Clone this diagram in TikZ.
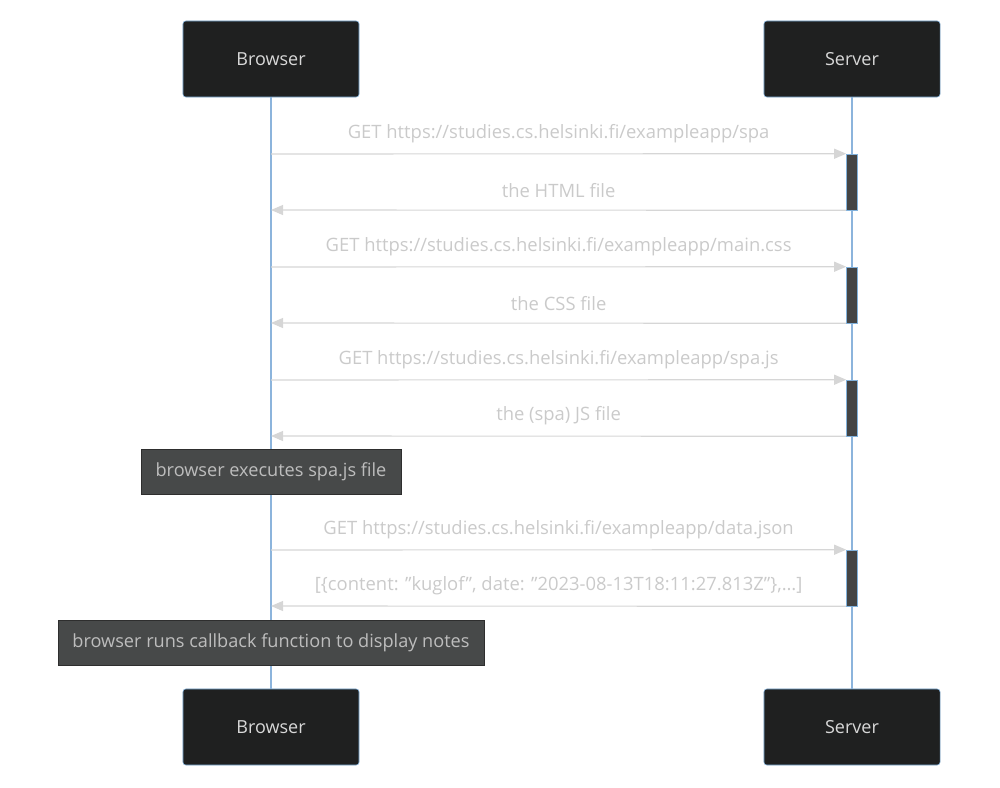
\documentclass[tikz,border=0pt]{standalone}
\usepackage{fontspec}
\setmainfont{Open Sans}
\usetikzlibrary{arrows.meta,positioning}
\definecolor{actorfill}{HTML}{1F2020}
\definecolor{actorline}{HTML}{81B1DB}
\definecolor{lifeline}{HTML}{8CB4DC}
\definecolor{msgline}{HTML}{D6D6D6}
\definecolor{msgtext}{HTML}{CACACA}
\definecolor{actortext}{HTML}{D8D8D8}
\definecolor{notefill}{HTML}{474949}
\definecolor{noteline}{HTML}{2E2E2E}
\definecolor{notetext}{HTML}{BDBDBD}
\definecolor{actfill}{HTML}{444444}
\newcommand{\dq}{\symbol{34}}
\tikzstyle{actor} = [
    rectangle,
    rounded corners=2pt,
    draw=actorline,
    fill=actorfill,
    minimum width=4.4cm,
    minimum height=1.9cm,
    text=actortext,
    font=\fontsize{12.8}{14}\selectfont
]
\tikzstyle{activation} = [
    rectangle,
    draw=actorline,
    fill=actfill,
    minimum width=0.275cm,
    minimum height=1.4cm,
    inner sep=0pt
]
\tikzstyle{note} = [
    rectangle,
    draw=noteline,
    fill=notefill,
    minimum height=1.125cm,
    text=notetext,
    font=\fontsize{12.9}{14}\selectfont
]
\tikzstyle{msg} = [
    -{Triangle[length=0.3cm,width=0.25cm]},
    draw=msgline,
    line width=0.8pt
]
\tikzstyle{msglabel} = [
    text=msgtext,
    font=\fontsize{13.1}{15}\selectfont,
    inner sep=0pt
]
\tikzstyle{life} = [
    draw=lifeline,
    line width=1pt
]

\begin{document}
\begin{tikzpicture}[x=0.025cm, y=-0.025cm]
        \useasboundingbox (0,0) rectangle (1000,788);

        % Actors
        \node[actor] (browser) at (271,59) {Browser};
        \node[actor] (server) at (852,59) {Server};
        \node[actor] (browserB) at (271,727) {Browser};
        \node[actor] (serverB) at (852,727) {Server};

        % Lifelines
        \draw[life] (browser) -- (browserB);
        \draw[life] (server) -- (serverB);

        % Activations
        \node[activation] (act1) at (852,182) {};
        \node[activation] (act2) at (852,295) {};
        \node[activation] (act3) at (852,408) {};
        \node[activation] (act4) at (852,578) {};

        % Points on the browser lifeline
        \coordinate (b1) at (271,154);
        \coordinate (b2) at (271,210);
        \coordinate (b3) at (271,267);
        \coordinate (b4) at (271,323);
        \coordinate (b5) at (271,380);
        \coordinate (b6) at (271,436);
        \coordinate (b7) at (271,550);
        \coordinate (b8) at (271,606);

        % Messages
        \draw[msg] (b1) -- node[msglabel, midway, yshift=0.5cm] (m1)
            {GET https://studies.cs.helsinki.fi/exampleapp/spa} (act1.north west);
        \draw[msg] (act1.south west) -- node[msglabel, midway, yshift=0.5cm] (m2)
            {the HTML file} (b2);
        \draw[msg] (b3) -- node[msglabel, midway, yshift=0.5cm] (m3)
            {GET https://studies.cs.helsinki.fi/exampleapp/main.css} (act2.north west);
        \draw[msg] (act2.south west) -- node[msglabel, midway, yshift=0.5cm] (m4)
            {the CSS file} (b4);
        \draw[msg] (b5) -- node[msglabel, midway, yshift=0.5cm] (m5)
            {GET https://studies.cs.helsinki.fi/exampleapp/spa.js} (act3.north west);
        \draw[msg] (act3.south west) -- node[msglabel, midway, yshift=0.5cm] (m6)
            {the (spa) JS file} (b6);
        \draw[msg] (b7) -- node[msglabel, midway, yshift=0.5cm] (m7)
            {GET https://studies.cs.helsinki.fi/exampleapp/data.json} (act4.north west);
        \draw[msg] (act4.south west) -- node[msglabel, midway, yshift=0.5cm] (m8)
            {[\{content: \dq kuglof\dq, date: \dq 2023-08-13T18:11:27.813Z\dq\},…]} (b8);

        % Notes
        \node[note, minimum width=6.5cm] (note1) at (271,471.5) {browser executes spa.js file};
        \node[note, minimum width=10.65cm] (note2) at (271,642.5) {browser runs callback function to display notes};
    \end{tikzpicture}
\end{document}
